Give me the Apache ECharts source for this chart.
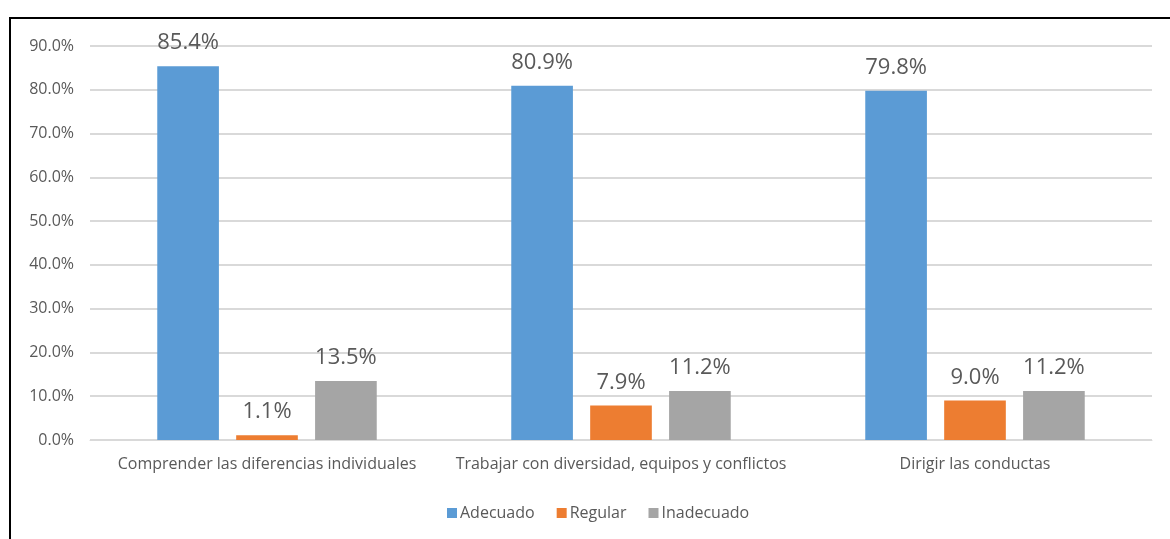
<!DOCTYPE html>
<html>
<head>
<meta charset="utf-8">
<script src="https://cdn.jsdelivr.net/npm/echarts@6/dist/echarts.min.js"></script>
<style>
  html, body { margin: 0; padding: 0; background: #fff; }
  #chart { width: 1170px; height: 539px; }
</style>
</head>
<body>
<div id="chart"></div>
<script>
// Competency dimensions and their rating shares (percent)
const categories = [
  'Comprender las diferencias individuales',
  'Trabajar con diversidad, equipos y conflictos',
  'Dirigir las conductas'
];
const adecuado = [85.4, 80.9, 79.8];
const regular = [1.1, 7.9, 9.0];
const inadecuado = [13.5, 11.2, 11.2];
const seriesNames = ['Adecuado', 'Regular', 'Inadecuado'];
const colors = ['#5B9BD5', '#ED7D31', '#A5A5A5'];

const fontFamily = '"Open Sans", "Noto Sans", sans-serif';
const textColor = '#595959';

const chart = echarts.init(document.getElementById('chart'), null, { renderer: 'canvas' });

function barSeries(name, data, color) {
  return {
    name: name,
    type: 'bar',
    data: data,
    barGap: '28%',
    barCategoryGap: '38%',
    itemStyle: { color: color },
    label: {
      show: true,
      position: 'top',
      distance: 12,
      formatter: p => p.value.toFixed(1) + '%',
      color: textColor,
      fontSize: 22,
      fontFamily: fontFamily
    }
  };
}

chart.setOption({
  animation: false,
  color: colors,
  graphic: [{
    type: 'rect',
    shape: { x: 10, y: 18, width: 1200, height: 600 },
    style: { fill: 'none', stroke: '#000', lineWidth: 2 },
    silent: true
  }],
  grid: { left: 90, right: 18, top: 46, bottom: 99 },
  legend: {
    data: seriesNames,
    bottom: 13,
    left: 442,
    itemWidth: 10,
    itemHeight: 10,
    itemGap: 22,
    icon: 'rect',
    textStyle: { color: textColor, fontSize: 16, fontFamily: fontFamily, padding: [0, 0, 0, -2] }
  },
  xAxis: {
    type: 'category',
    data: categories,
    axisLine: { lineStyle: { color: '#D9D9D9', width: 1 } },
    axisTick: { show: false },
    axisLabel: { color: textColor, fontSize: 16, fontFamily: fontFamily, margin: 16, interval: 0 }
  },
  yAxis: {
    type: 'value',
    min: 0,
    max: 90,
    interval: 10,
    axisLine: { show: false },
    axisTick: { show: false },
    splitLine: { lineStyle: { color: '#D9D9D9', width: 2 } },
    axisLabel: {
      color: textColor,
      fontSize: 16,
      fontFamily: fontFamily,
      margin: 16,
      formatter: v => v.toFixed(1) + '%'
    }
  },
  series: [
    barSeries(seriesNames[0], adecuado, colors[0]),
    barSeries(seriesNames[1], regular, colors[1]),
    barSeries(seriesNames[2], inadecuado, colors[2])
  ]
});
</script>
</body>
</html>
